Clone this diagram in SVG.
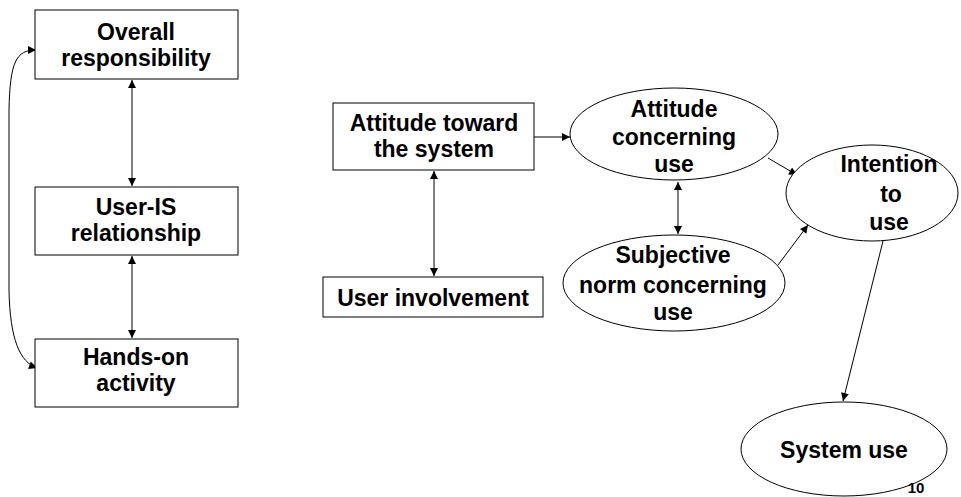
<svg xmlns="http://www.w3.org/2000/svg" width="961" height="497" viewBox="0 0 961 497">
<style>
.box{fill:#fff;stroke:#000;stroke-width:1}
.t{font-family:"Liberation Sans",Arial,sans-serif;font-weight:bold;font-size:23px;fill:#000;text-anchor:middle}
.c{fill:none;stroke:#000;stroke-width:1}
</style>
<defs>
<marker id="ah" viewBox="0 0 10 10" refX="10" refY="5" markerWidth="9" markerHeight="8" orient="auto-start-reverse" markerUnits="userSpaceOnUse">
<path d="M0,0 L10,5 L0,10 z" fill="#000"/>
</marker>
</defs>
<rect width="961" height="497" fill="#fff"/>
<g id="connectors">
<line class="c" x1="132" y1="80" x2="132" y2="186" marker-start="url(#ah)" marker-end="url(#ah)"/>
<line class="c" x1="132" y1="256" x2="132" y2="338" marker-start="url(#ah)" marker-end="url(#ah)"/>
<path class="c" d="M36,50 C16,50 10,62 9,110 L9,290 C10,340 20,362 37,368" marker-start="url(#ah)" marker-end="url(#ah)"/>
<line class="c" x1="434" y1="171" x2="434" y2="276" marker-start="url(#ah)" marker-end="url(#ah)"/>
<line class="c" x1="534" y1="137" x2="570" y2="137" marker-end="url(#ah)"/>
<line class="c" x1="678" y1="182" x2="678" y2="234" marker-start="url(#ah)" marker-end="url(#ah)"/>
<line class="c" x1="768" y1="158" x2="797" y2="175" marker-end="url(#ah)"/>
<line class="c" x1="778" y1="265" x2="808" y2="225" marker-end="url(#ah)"/>
<line class="c" x1="883" y1="241" x2="843" y2="401" marker-end="url(#ah)"/>
</g>
<g id="overall">
<rect class="box" x="35" y="10" width="203" height="69"/>
<text class="t" x="136" y="40">Overall</text>
<text class="t" x="136" y="66">responsibility</text>
</g>
<g id="user-is">
<rect class="box" x="35" y="187" width="203" height="68"/>
<text class="t" x="136" y="215">User-IS</text>
<text class="t" x="136" y="241">relationship</text>
</g>
<g id="hands-on">
<rect class="box" x="35" y="339" width="203" height="68"/>
<text class="t" x="136" y="365">Hands-on</text>
<text class="t" x="136" y="391">activity</text>
</g>
<g id="attitude-toward">
<rect class="box" x="333" y="103" width="201" height="67"/>
<text class="t" x="434" y="131">Attitude toward</text>
<text class="t" x="434" y="157">the system</text>
</g>
<g id="user-involvement">
<rect class="box" x="323" y="277" width="220" height="40"/>
<text class="t" x="433" y="306">User involvement</text>
</g>
<g id="attitude-concerning">
<ellipse class="box" cx="674" cy="134" rx="104" ry="46"/>
<text class="t" x="674" y="117">Attitude</text>
<text class="t" x="674" y="145">concerning</text>
<text class="t" x="674" y="172">use</text>
</g>
<g id="subjective-norm">
<ellipse class="box" cx="674" cy="283" rx="111" ry="48"/>
<text class="t" x="673" y="263">Subjective</text>
<text class="t" x="673" y="293">norm concerning</text>
<text class="t" x="673" y="320">use</text>
</g>
<g id="intention">
<ellipse class="box" cx="872" cy="193" rx="86" ry="48"/>
<text class="t" x="889" y="172">Intention</text>
<text class="t" x="891" y="202">to</text>
<text class="t" x="889" y="230">use</text>
</g>
<g id="system-use">
<ellipse class="box" cx="844" cy="449" rx="103" ry="47"/>
<text class="t" x="844" y="458">System use</text>
</g>
<text x="916" y="493" style="font-family:'Liberation Sans',Arial,sans-serif;font-weight:bold;font-size:15px;text-anchor:middle">10</text>
</svg>
